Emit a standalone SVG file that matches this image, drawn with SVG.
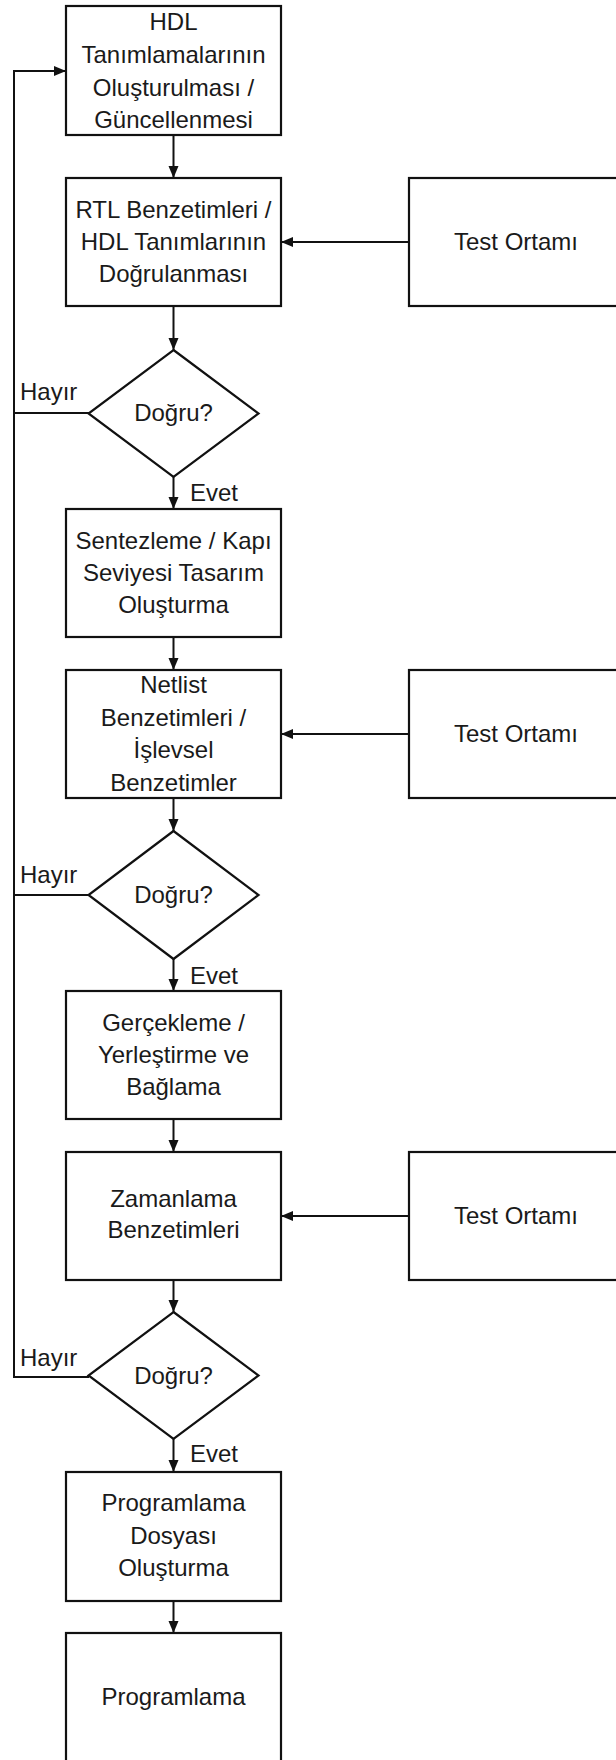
<svg xmlns="http://www.w3.org/2000/svg" width="616" height="1760" viewBox="0 0 616 1760">
  <style>
    .box { fill: #ffffff; stroke: #111111; stroke-width: 2.2; }
    .wire { fill: none; stroke: #111111; stroke-width: 2; }
    .lbl { font-family: "Liberation Sans", Arial, sans-serif; font-size: 24px; fill: #1a1a1a; text-anchor: middle; }
    .side { font-family: "Liberation Sans", Arial, sans-serif; font-size: 24px; fill: #1a1a1a; }
  </style>
  <defs>
    <marker id="arrow" markerUnits="userSpaceOnUse" markerWidth="13" markerHeight="11" refX="12" refY="5" orient="auto">
      <path d="M0,0 L12,5 L0,10 Z" fill="#111111"/>
    </marker>
  </defs>
  <rect x="0" y="0" width="616" height="1760" fill="#ffffff"/>

  <!-- connectors -->
  <g id="connectors">
    <line class="wire" x1="173.5" y1="135" x2="173.5" y2="178" marker-end="url(#arrow)"/>
    <line class="wire" x1="409" y1="242" x2="281" y2="242" marker-end="url(#arrow)"/>
    <line class="wire" x1="173.5" y1="306" x2="173.5" y2="350" marker-end="url(#arrow)"/>
    <line class="wire" x1="173.5" y1="477" x2="173.5" y2="509" marker-end="url(#arrow)"/>
    <line class="wire" x1="173.5" y1="637" x2="173.5" y2="670" marker-end="url(#arrow)"/>
    <line class="wire" x1="409" y1="734" x2="281" y2="734" marker-end="url(#arrow)"/>
    <line class="wire" x1="173.5" y1="798" x2="173.5" y2="831" marker-end="url(#arrow)"/>
    <line class="wire" x1="173.5" y1="959" x2="173.5" y2="991" marker-end="url(#arrow)"/>
    <line class="wire" x1="173.5" y1="1119" x2="173.5" y2="1152" marker-end="url(#arrow)"/>
    <line class="wire" x1="409" y1="1216" x2="281" y2="1216" marker-end="url(#arrow)"/>
    <line class="wire" x1="173.5" y1="1280" x2="173.5" y2="1312" marker-end="url(#arrow)"/>
    <line class="wire" x1="173.5" y1="1439" x2="173.5" y2="1472" marker-end="url(#arrow)"/>
    <line class="wire" x1="173.5" y1="1601" x2="173.5" y2="1633" marker-end="url(#arrow)"/>
    <!-- "no" branches feeding back to the first step -->
    <path class="wire" d="M89,1377 H14 V71 H66" marker-end="url(#arrow)"/>
    <path class="wire" d="M89,413 H14"/>
    <path class="wire" d="M89,895 H14"/>
    <text class="side" x="20" y="400">Hayır</text>
    <text class="side" x="20" y="883">Hayır</text>
    <text class="side" x="20" y="1366">Hayır</text>
    <text class="side" x="190" y="501">Evet</text>
    <text class="side" x="190" y="984">Evet</text>
    <text class="side" x="190" y="1462">Evet</text>
  </g>

  <g id="hdl">
    <rect class="box" x="66" y="6" width="215" height="129"/>
    <text class="lbl" x="173.5" y="30">HDL</text>
    <text class="lbl" x="173.5" y="63">Tanımlamalarının</text>
    <text class="lbl" x="173.5" y="96">Oluşturulması /</text>
    <text class="lbl" x="173.5" y="128">Güncellenmesi</text>
  </g>

  <g id="rtl">
    <rect class="box" x="66" y="178" width="215" height="128"/>
    <text class="lbl" x="173.5" y="218">RTL Benzetimleri /</text>
    <text class="lbl" x="173.5" y="250">HDL Tanımlarının</text>
    <text class="lbl" x="173.5" y="282">Doğrulanması</text>
  </g>

  <g id="test1">
    <rect class="box" x="409" y="178" width="216" height="128"/>
    <text class="lbl" x="516" y="250">Test Ortamı</text>
  </g>

  <g id="check1">
    <polygon class="box" points="173.5,350 258.5,413.5 173.5,477 88.5,413.5"/>
    <text class="lbl" x="173.5" y="421">Doğru?</text>
  </g>

  <g id="synth">
    <rect class="box" x="66" y="509" width="215" height="128"/>
    <text class="lbl" x="173.5" y="549">Sentezleme / Kapı</text>
    <text class="lbl" x="173.5" y="581">Seviyesi Tasarım</text>
    <text class="lbl" x="173.5" y="613">Oluşturma</text>
  </g>

  <g id="netlist">
    <rect class="box" x="66" y="670" width="215" height="128"/>
    <text class="lbl" x="173.5" y="693">Netlist</text>
    <text class="lbl" x="173.5" y="726">Benzetimleri /</text>
    <text class="lbl" x="173.5" y="758">İşlevsel</text>
    <text class="lbl" x="173.5" y="791">Benzetimler</text>
  </g>

  <g id="test2">
    <rect class="box" x="409" y="670" width="216" height="128"/>
    <text class="lbl" x="516" y="742">Test Ortamı</text>
  </g>

  <g id="check2">
    <polygon class="box" points="173.5,831 258.5,895 173.5,959 88.5,895"/>
    <text class="lbl" x="173.5" y="903">Doğru?</text>
  </g>

  <g id="par">
    <rect class="box" x="66" y="991" width="215" height="128"/>
    <text class="lbl" x="173.5" y="1031">Gerçekleme /</text>
    <text class="lbl" x="173.5" y="1063">Yerleştirme ve</text>
    <text class="lbl" x="173.5" y="1095">Bağlama</text>
  </g>

  <g id="timing">
    <rect class="box" x="66" y="1152" width="215" height="128"/>
    <text class="lbl" x="173.5" y="1207">Zamanlama</text>
    <text class="lbl" x="173.5" y="1238">Benzetimleri</text>
  </g>

  <g id="test3">
    <rect class="box" x="409" y="1152" width="216" height="128"/>
    <text class="lbl" x="516" y="1224">Test Ortamı</text>
  </g>

  <g id="check3">
    <polygon class="box" points="173.5,1312 258.5,1375.5 173.5,1439 88.5,1375.5"/>
    <text class="lbl" x="173.5" y="1384">Doğru?</text>
  </g>

  <g id="bitfile">
    <rect class="box" x="66" y="1472" width="215" height="129"/>
    <text class="lbl" x="173.5" y="1511">Programlama</text>
    <text class="lbl" x="173.5" y="1544">Dosyası</text>
    <text class="lbl" x="173.5" y="1576">Oluşturma</text>
  </g>

  <g id="program">
    <rect class="box" x="66" y="1633" width="215" height="140"/>
    <text class="lbl" x="173.5" y="1705">Programlama</text>
  </g>
</svg>
